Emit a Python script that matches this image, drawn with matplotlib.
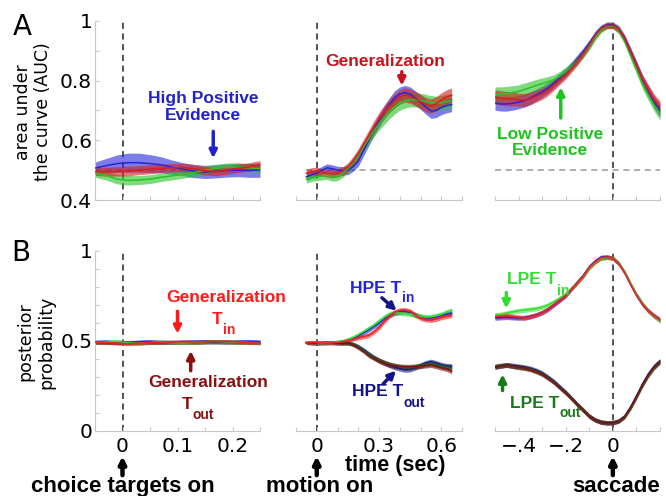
import numpy as np
import matplotlib
matplotlib.use('Agg')
import matplotlib.pyplot as plt

plt.rcParams['font.family'] = 'DejaVu Sans'

# ---- data ----
# choice targets aligned (sec)
t_targ = [-0.05, -0.03, -0.01, 0.01, 0.03, 0.05, 0.07, 0.09, 0.11, 0.13, 0.15, 0.17, 0.19, 0.21, 0.23, 0.25]
# motion aligned (sec)
t_motion = [-0.05, -0.025, 0.0, 0.025, 0.05, 0.075, 0.1, 0.125, 0.15, 0.175, 0.2, 0.225, 0.25, 0.275, 0.3,
            0.325, 0.35, 0.375, 0.4, 0.425, 0.45, 0.475, 0.5, 0.525, 0.55, 0.575, 0.6, 0.625, 0.65]
# saccade aligned (sec)
t_sacc = [-0.5, -0.475, -0.45, -0.425, -0.4, -0.375, -0.35, -0.325, -0.3, -0.275, -0.25, -0.225, -0.2, -0.175,
          -0.15, -0.125, -0.1, -0.075, -0.05, -0.025, 0.0, 0.025, 0.05, 0.075, 0.1, 0.125, 0.15, 0.175, 0.2]

# A: AUC
auc_targ_hpe = [0.507, 0.515, 0.522, 0.525, 0.525, 0.522, 0.518, 0.510, 0.503, 0.497, 0.494, 0.496, 0.499, 0.500, 0.499, 0.500]
auc_targ_lpe = [0.490, 0.482, 0.470, 0.466, 0.467, 0.470, 0.476, 0.481, 0.487, 0.492, 0.500, 0.506, 0.510, 0.511, 0.508, 0.505]
auc_targ_gen = [0.496, 0.495, 0.496, 0.497, 0.500, 0.503, 0.506, 0.508, 0.509, 0.505, 0.498, 0.495, 0.500, 0.506, 0.511, 0.518]
sem_targ_hpe = [0.020, 0.024, 0.029, 0.032, 0.032, 0.030, 0.027, 0.024, 0.022, 0.022, 0.022, 0.022, 0.022, 0.022, 0.023, 0.024]
sem_targ = [0.014, 0.015, 0.016, 0.016, 0.015, 0.015, 0.014, 0.014, 0.014, 0.014, 0.014, 0.014, 0.014, 0.014, 0.014, 0.014]

auc_mot_hpe = [0.478, 0.485, 0.490, 0.500, 0.508, 0.505, 0.500, 0.498, 0.500, 0.512, 0.530, 0.565, 0.600, 0.635, 0.665,
               0.695, 0.720, 0.742, 0.755, 0.760, 0.755, 0.742, 0.728, 0.712, 0.698, 0.700, 0.710, 0.716, 0.720]
auc_mot_lpe = [0.470, 0.475, 0.478, 0.480, 0.482, 0.476, 0.478, 0.490, 0.505, 0.525, 0.548, 0.578, 0.605, 0.632, 0.655,
               0.675, 0.695, 0.712, 0.725, 0.732, 0.736, 0.736, 0.734, 0.730, 0.726, 0.724, 0.726, 0.730, 0.732]
auc_mot_gen = [0.490, 0.495, 0.497, 0.493, 0.490, 0.487, 0.490, 0.497, 0.510, 0.530, 0.555, 0.585, 0.615, 0.645, 0.672,
               0.695, 0.715, 0.732, 0.745, 0.752, 0.748, 0.740, 0.730, 0.720, 0.715, 0.722, 0.735, 0.745, 0.752]
sem_mot = [0.013, 0.013, 0.013, 0.013, 0.013, 0.013, 0.013, 0.014, 0.015, 0.016, 0.017, 0.018, 0.019, 0.020, 0.021,
           0.022, 0.023, 0.024, 0.024, 0.024, 0.024, 0.024, 0.024, 0.024, 0.024, 0.024, 0.024, 0.024, 0.024]

auc_sac_hpe = [0.725, 0.722, 0.722, 0.724, 0.728, 0.733, 0.742, 0.752, 0.763, 0.776, 0.792, 0.810, 0.828, 0.850, 0.873,
               0.898, 0.925, 0.955, 0.977, 0.987, 0.987, 0.973, 0.942, 0.898, 0.852, 0.805, 0.765, 0.728, 0.700]
auc_sac_lpe = [0.755, 0.755, 0.757, 0.760, 0.764, 0.770, 0.777, 0.784, 0.790, 0.796, 0.803, 0.815, 0.830, 0.848, 0.868,
               0.890, 0.915, 0.945, 0.970, 0.983, 0.984, 0.968, 0.933, 0.885, 0.838, 0.790, 0.752, 0.718, 0.690]
auc_sac_gen = [0.745, 0.742, 0.740, 0.738, 0.736, 0.735, 0.740, 0.748, 0.756, 0.768, 0.785, 0.803, 0.820, 0.842, 0.866,
               0.892, 0.920, 0.952, 0.975, 0.985, 0.985, 0.972, 0.940, 0.895, 0.850, 0.805, 0.770, 0.735, 0.710]
sem_sac = [0.024, 0.024, 0.024, 0.023, 0.022, 0.022, 0.021, 0.020, 0.019, 0.018, 0.017, 0.016, 0.015, 0.014, 0.014,
           0.013, 0.012, 0.011, 0.010, 0.010, 0.010, 0.011, 0.012, 0.014, 0.015, 0.016, 0.018, 0.020, 0.022]

# B: posterior probability, T_in / T_out
pp_targ_in_hpe = [0.495, 0.497, 0.494, 0.492, 0.496, 0.498, 0.494, 0.493, 0.496, 0.497, 0.498, 0.496, 0.495, 0.497, 0.498, 0.496]
pp_targ_in_lpe = [0.493, 0.495, 0.497, 0.490, 0.488, 0.492, 0.495, 0.492, 0.490, 0.493, 0.496, 0.498, 0.495, 0.493, 0.492, 0.490]
pp_targ_in_gen = [0.494, 0.492, 0.488, 0.485, 0.488, 0.491, 0.493, 0.494, 0.495, 0.494, 0.496, 0.498, 0.497, 0.494, 0.492, 0.489]
pp_targ_out_hpe = [0.493, 0.494, 0.492, 0.490, 0.491, 0.494, 0.495, 0.494, 0.493, 0.494, 0.495, 0.494, 0.493, 0.494, 0.495, 0.494]
pp_targ_out_lpe = [0.492, 0.493, 0.494, 0.492, 0.490, 0.490, 0.492, 0.493, 0.492, 0.492, 0.494, 0.495, 0.494, 0.493, 0.493, 0.492]
pp_targ_out_gen = [0.493, 0.491, 0.489, 0.488, 0.489, 0.491, 0.492, 0.493, 0.494, 0.493, 0.494, 0.495, 0.495, 0.493, 0.491, 0.490]
sem_pp_targ = [0.010, 0.010, 0.010, 0.010, 0.010, 0.010, 0.010, 0.010, 0.010, 0.010, 0.010, 0.010, 0.010, 0.010, 0.010, 0.010]

pp_mot_in_hpe = [0.490, 0.492, 0.490, 0.488, 0.489, 0.491, 0.494, 0.498, 0.505, 0.515, 0.528, 0.545, 0.562, 0.580, 0.600,
                 0.622, 0.642, 0.655, 0.662, 0.664, 0.658, 0.645, 0.635, 0.628, 0.628, 0.635, 0.643, 0.650, 0.655]
pp_mot_in_lpe = [0.492, 0.494, 0.492, 0.489, 0.490, 0.492, 0.495, 0.500, 0.508, 0.520, 0.535, 0.552, 0.570, 0.588, 0.610,
                 0.632, 0.650, 0.656, 0.656, 0.654, 0.650, 0.644, 0.638, 0.633, 0.634, 0.640, 0.648, 0.660, 0.670]
pp_mot_in_gen = [0.490, 0.492, 0.493, 0.490, 0.488, 0.490, 0.492, 0.496, 0.503, 0.510, 0.518, 0.524, 0.532, 0.550, 0.575,
                 0.608, 0.640, 0.660, 0.670, 0.672, 0.665, 0.645, 0.628, 0.620, 0.617, 0.622, 0.632, 0.638, 0.644]
pp_mot_out_hpe = [0.492, 0.490, 0.488, 0.489, 0.490, 0.489, 0.488, 0.488, 0.489, 0.483, 0.470, 0.452, 0.430, 0.410, 0.392,
                  0.378, 0.365, 0.355, 0.346, 0.340, 0.342, 0.352, 0.365, 0.378, 0.385, 0.378, 0.368, 0.362, 0.360]
pp_mot_out_lpe = [0.491, 0.489, 0.488, 0.490, 0.491, 0.490, 0.489, 0.488, 0.489, 0.482, 0.468, 0.448, 0.426, 0.408, 0.393,
                  0.381, 0.371, 0.363, 0.357, 0.352, 0.352, 0.357, 0.364, 0.370, 0.374, 0.368, 0.360, 0.355, 0.350]
pp_mot_out_gen = [0.490, 0.488, 0.487, 0.490, 0.492, 0.490, 0.488, 0.487, 0.490, 0.480, 0.463, 0.443, 0.420, 0.404, 0.390,
                  0.378, 0.368, 0.362, 0.358, 0.357, 0.357, 0.358, 0.360, 0.364, 0.367, 0.360, 0.352, 0.345, 0.332]
sem_pp_mot = [0.010, 0.010, 0.010, 0.010, 0.010, 0.010, 0.010, 0.010, 0.011, 0.011, 0.012, 0.012, 0.013, 0.013, 0.014,
              0.014, 0.014, 0.014, 0.014, 0.014, 0.014, 0.014, 0.014, 0.014, 0.014, 0.014, 0.014, 0.014, 0.014]

pp_sac_in_hpe = [0.628, 0.630, 0.632, 0.630, 0.628, 0.630, 0.636, 0.645, 0.658, 0.676, 0.700, 0.726, 0.752, 0.790, 0.828,
                 0.866, 0.912, 0.944, 0.966, 0.968, 0.960, 0.930, 0.880, 0.816, 0.756, 0.706, 0.668, 0.640, 0.618]
pp_sac_in_lpe = [0.645, 0.648, 0.655, 0.662, 0.668, 0.672, 0.676, 0.680, 0.688, 0.700, 0.718, 0.738, 0.760, 0.792, 0.826,
                 0.862, 0.905, 0.938, 0.958, 0.964, 0.960, 0.932, 0.884, 0.820, 0.760, 0.708, 0.668, 0.638, 0.612]
pp_sac_in_gen = [0.635, 0.638, 0.640, 0.636, 0.632, 0.628, 0.635, 0.645, 0.658, 0.678, 0.703, 0.728, 0.753, 0.790, 0.826,
                 0.862, 0.910, 0.940, 0.962, 0.966, 0.960, 0.930, 0.880, 0.815, 0.755, 0.705, 0.668, 0.640, 0.617]
pp_sac_out_hpe = [0.355, 0.362, 0.368, 0.364, 0.360, 0.355, 0.348, 0.337, 0.322, 0.300, 0.275, 0.246, 0.216, 0.182, 0.147,
                  0.115, 0.082, 0.060, 0.048, 0.044, 0.046, 0.056, 0.082, 0.133, 0.194, 0.260, 0.316, 0.360, 0.390]
pp_sac_out_lpe = [0.360, 0.364, 0.366, 0.360, 0.354, 0.350, 0.344, 0.332, 0.318, 0.296, 0.272, 0.242, 0.213, 0.180, 0.146,
                  0.115, 0.083, 0.062, 0.050, 0.046, 0.047, 0.056, 0.080, 0.128, 0.188, 0.252, 0.308, 0.352, 0.383]
pp_sac_out_gen = [0.357, 0.362, 0.366, 0.360, 0.355, 0.350, 0.342, 0.330, 0.315, 0.293, 0.270, 0.240, 0.212, 0.180, 0.145,
                  0.115, 0.082, 0.062, 0.050, 0.046, 0.046, 0.055, 0.080, 0.130, 0.190, 0.255, 0.310, 0.355, 0.385]
sem_pp_sac = [0.013, 0.013, 0.013, 0.013, 0.013, 0.013, 0.013, 0.013, 0.013, 0.013, 0.013, 0.013, 0.013, 0.013, 0.013,
              0.013, 0.013, 0.012, 0.012, 0.012, 0.012, 0.012, 0.012, 0.013, 0.013, 0.013, 0.013, 0.013, 0.013]

# colours
BLUE, GREEN, RED = '#2626d8', '#26c426', '#d81e1e'
LGREEN, LRED = '#33e033', '#f02020'
DBLUE, DGREEN, DRED = '#1c1c80', '#1c6e1c', '#7c1212'
SPINE = '#c8c8c8'
BOLD = dict(fontweight='bold', family='Liberation Sans')


def band(ax, x, y, err, color, alpha=0.6, lw=1.1):
    x, y, err = np.asarray(x), np.asarray(y), np.asarray(err)
    ax.fill_between(x, y - err, y + err, color=color, alpha=alpha, lw=0, zorder=2)
    ax.plot(x, y, color=color, lw=lw, zorder=3)


def style(ax, xlim, ylim, xticks, xlabels, yticks=None, ylabels=None):
    ax.set_xlim(xlim)
    ax.set_ylim(ylim)
    ax.patch.set_alpha(0)
    for s in ['top', 'right']:
        ax.spines[s].set_visible(False)
    ax.spines['left'].set_visible(yticks is not None)
    for s in ['bottom', 'left']:
        ax.spines[s].set_color(SPINE)
        ax.spines[s].set_linewidth(0.8)
    ax.set_xticks(xticks)
    ax.set_xticklabels(xlabels)
    ax.tick_params(axis='x', direction='in', length=3, color=SPINE, labelsize=14.5, pad=4)
    if yticks is not None:
        ax.set_yticks(yticks)
        ax.set_yticklabels(ylabels)
        ax.tick_params(axis='y', direction='in', length=3, color=SPINE, labelsize=14.5, pad=2)
    else:
        ax.set_yticks([])


def arrow(ax, tail, head, color, lw=2.5, ms=11, **kw):
    ax.annotate('', xy=head, xytext=tail, annotation_clip=False,
                arrowprops=dict(arrowstyle='-|>', lw=lw, color=color, mutation_scale=ms,
                                shrinkA=0, shrinkB=0), **kw)


def subscripted(ax, x, y, main, sub, color, dy):
    # main text ends at x, subscript starts at x and sits dy lower (data units)
    ax.text(x, y, main, color=color, fontsize=12.5, ha='right', va='center', **BOLD)
    ax.text(x + 0.002 * (ax.get_xlim()[1] - ax.get_xlim()[0]), y - dy, sub, color=color, fontsize=10,
            ha='left', va='center', **BOLD)


fig = plt.figure(figsize=(6.66, 4.96), dpi=100)
W, H = 666.0, 496.0
cols = [(95, 165), (296, 166), (495, 165)]
rows = [(21, 179), (251, 180)]
axes = [[fig.add_axes([x / W, 1 - (y + h) / H, w / W, h / H]) for (x, w) in cols] for (y, h) in rows]

dash = (0, (4, 3))
xlims = [(-0.05, 0.25), (-0.1, 0.7), (-0.5, 0.2)]
tick_pos = [[-0.05, 0, 0.05, 0.1, 0.15, 0.2, 0.25],
            [-0.1, 0, 0.1, 0.2, 0.3, 0.4, 0.5, 0.6, 0.7],
            [-0.5, -0.4, -0.3, -0.2, -0.1, 0, 0.1, 0.2]]
tick_lab = [['', '0', '', '0.1', '', '0.2', ''],
            ['', '0', '', '', '0.3', '', '', '0.6', ''],
            ['', '\u2212.4', '', '\u2212.2', '', '0', '', '']]

# ---- row A ----
a1, a2, a3 = axes[0]
style(a1, xlims[0], (0.4, 1.0), tick_pos[0], [''] * 7,
      [0.4, 0.5, 0.6, 0.7, 0.8, 0.9, 1.0], ['0.4', '', '0.6', '', '0.8', '', '1'])
style(a2, xlims[1], (0.4, 1.0), tick_pos[1], [''] * 9)
style(a3, xlims[2], (0.4, 1.0), tick_pos[2], [''] * 8)

for ax, t, series in [
        (a1, t_targ, [(auc_targ_hpe, sem_targ_hpe, BLUE), (auc_targ_lpe, sem_targ, GREEN), (auc_targ_gen, sem_targ, RED)]),
        (a2, t_motion, [(auc_mot_hpe, sem_mot, BLUE), (auc_mot_lpe, sem_mot, GREEN), (auc_mot_gen, sem_mot, RED)]),
        (a3, t_sacc, [(auc_sac_hpe, sem_sac, BLUE), (auc_sac_lpe, sem_sac, GREEN), (auc_sac_gen, sem_sac, RED)])]:
    ax.axvline(0, color='#222222', ls=dash, lw=1.1, zorder=1)
    ax.plot([t[0], t[-1]], [0.5, 0.5], color='#999999', ls=dash, lw=1.1, zorder=1)
    for y, e, c in series:
        band(ax, t, y, e, c)

a1.text(0.147, 0.712, 'High Positive\nEvidence', color='#2222cc', fontsize=12.5, ha='center',
        va='center', linespacing=1.1, **BOLD)
arrow(a1, (0.165, 0.630), (0.165, 0.540), '#2222cc')
a2.text(0.33, 0.863, 'Generalization', color='#c4141c', fontsize=12.5, ha='center', va='center', **BOLD)
arrow(a2, (0.41, 0.830), (0.41, 0.783), '#c4141c')
a3.text(-0.268, 0.593, 'Low Positive\nEvidence', color='#1ec41e', fontsize=12.5, ha='center',
        va='center', linespacing=1.1, **BOLD)
arrow(a3, (-0.221, 0.675), (-0.221, 0.778), '#1ec41e')

# ---- row B ----
b1, b2, b3 = axes[1]
style(b1, xlims[0], (0, 1), tick_pos[0], tick_lab[0],
      [0, 0.1, 0.2, 0.3, 0.4, 0.5, 0.6, 0.7, 0.8, 0.9, 1.0], ['0', '', '', '', '', '0.5', '', '', '', '', '1'])
style(b2, xlims[1], (0, 1), tick_pos[1], tick_lab[1])
style(b3, xlims[2], (0, 1), tick_pos[2], tick_lab[2])

for ax, t, e, series in [
        (b1, t_targ, sem_pp_targ, [pp_targ_out_hpe, pp_targ_out_lpe, pp_targ_out_gen,
                                   pp_targ_in_hpe, pp_targ_in_lpe, pp_targ_in_gen]),
        (b2, t_motion, sem_pp_mot, [pp_mot_out_hpe, pp_mot_out_lpe, pp_mot_out_gen,
                                    pp_mot_in_hpe, pp_mot_in_lpe, pp_mot_in_gen]),
        (b3, t_sacc, sem_pp_sac, [pp_sac_out_hpe, pp_sac_out_lpe, pp_sac_out_gen,
                                  pp_sac_in_hpe, pp_sac_in_lpe, pp_sac_in_gen])]:
    ax.axvline(0, color='#222222', ls=dash, lw=1.1, zorder=1)
    for y, c in zip(series, [DBLUE, DGREEN, DRED, BLUE, LGREEN, LRED]):
        band(ax, t, y, e, c, alpha=0.6)

b1.text(0.189, 0.739, 'Generalization', color='#ff1a1a', fontsize=12.5, ha='center', va='center', **BOLD)
subscripted(b1, 0.182, 0.617, 'T', 'in', '#ff1a1a', 0.056)
arrow(b1, (0.10, 0.665), (0.10, 0.540), '#ff1a1a')
b1.text(0.155, 0.267, 'Generalization', color='#8a0f0f', fontsize=12.5, ha='center', va='center', **BOLD)
subscripted(b1, 0.127, 0.146, 'T', 'out', '#8a0f0f', 0.057)
arrow(b1, (0.124, 0.335), (0.124, 0.445), '#8a0f0f')

subscripted(b2, 0.408, 0.793, 'HPE T', 'in', '#2222ee', 0.056)
arrow(b2, (0.314, 0.740), (0.385, 0.668), '#14148a')
subscripted(b2, 0.417, 0.218, 'HPE T', 'out', '#14148a', 0.062)
arrow(b2, (0.320, 0.262), (0.382, 0.335), '#14148a')

subscripted(b3, -0.238, 0.839, 'LPE T', 'in', '#33dd33', 0.062)
arrow(b3, (-0.452, 0.770), (-0.452, 0.680), '#33dd33')
subscripted(b3, -0.226, 0.154, 'LPE T', 'out', '#1a7a1a', 0.056)
arrow(b3, (-0.468, 0.225), (-0.468, 0.315), '#1a7a1a')

# event markers under the x axes
for ax, label, dx in [(b1, 'choice targets on', 0.0), (b2, 'motion on', 0.012), (b3, 'saccade', 0.012)]:
    tr = ax.get_xaxis_transform()
    arrow(ax, (0, -0.245), (0, -0.140), 'black', lw=3.2, ms=10, xycoords=tr, textcoords=tr)
    ax.text(dx, -0.31, label, transform=tr, fontsize=16, ha='center', va='center', **BOLD)
b2.text(0.379, -0.19, 'time (sec)', transform=b2.get_xaxis_transform(), fontsize=15.5,
        ha='center', va='center', **BOLD)

# y labels and panel letters
fig.text(33 / W, 1 - 112 / H, 'area under\nthe curve (AUC)', rotation=90, ha='center', va='center',
         fontsize=12.5, linespacing=1.2)
fig.text(36 / W, 1 - 342 / H, 'posterior\nprobability', rotation=90, ha='center', va='center',
         fontsize=12.5, linespacing=1.2)
fig.text(22 / W, 1 - 27 / H, 'A', ha='center', va='center', fontsize=20)
fig.text(21 / W, 1 - 253 / H, 'B', ha='center', va='center', fontsize=20)

fig.savefig('out.png', dpi=100)
